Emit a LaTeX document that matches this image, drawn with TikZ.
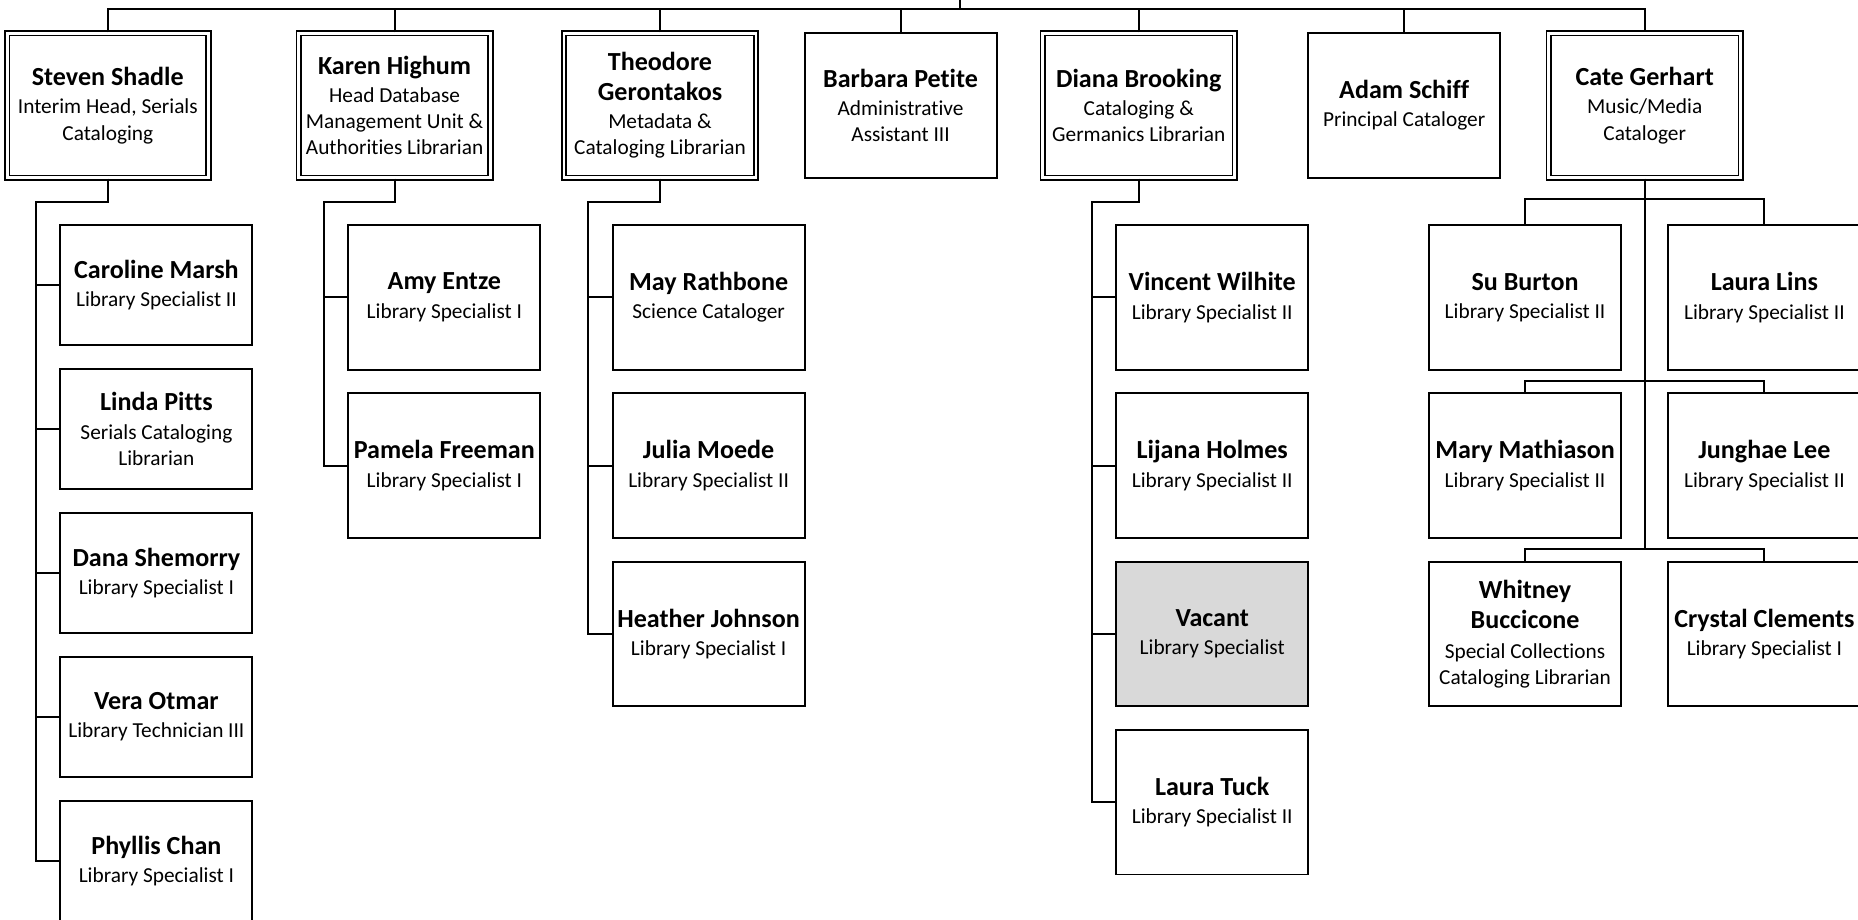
\documentclass[tikz,border=0pt]{standalone}
\usepackage{fontspec}
\setmainfont{Carlito}[Ligatures=NoCommon]
\usepackage{tikz}
\usetikzlibrary{positioning}
\usetikzlibrary{calc}

\newcommand{\nm}[1]{{\fontsize{11}{13}\selectfont\bfseries #1}}

\begin{document}
\begin{tikzpicture}[x=0.5pt, y=-0.5pt, line width=0.8pt,
        box/.style={draw, align=center, inner sep=1pt, minimum width=81pt,
            minimum height=61pt, font=\fontsize{9}{11}\selectfont},
        headbox/.style={box, line width=0.7pt, double, double distance=1.2pt},
        smallbox/.style={box, minimum height=50.5pt},
        vacantbox/.style={box, fill=black!15}]
            \useasboundingbox (0,0) rectangle (1568,776);

            % top row
            \node [headbox, minimum width=85pt] (steven) at (91,89) {\nm{Steven Shadle}\\[1pt]Interim Head, Serials\\Cataloging};
            \node [headbox] (karen) at (333,89) {\nm{Karen Highum}\\[1pt]Head Database\\Management Unit \&\\Authorities Librarian};
            \node [headbox] (theodore) at (557,89) {\nm{Theodore}\\[1.5pt]\nm{Gerontakos}\\[1pt]Metadata \&\\Cataloging Librarian};
            \node [box] (barbara) at (760,89) {\nm{Barbara Petite}\\[1pt]Administrative\\Assistant III};
            \node [headbox] (diana) at (961,89) {\nm{Diana Brooking}\\[1pt]Cataloging \&\\Germanics Librarian};
            \node [box] (adam) at (1185,89) {\nm{Adam Schiff}\\[1pt]Principal Cataloger};
            \node [headbox] (cate) at (1388,89) {\nm{Cate Gerhart}\\[1pt]Music/Media\\Cataloger};
            \coordinate (head) at (810,0);

            % serials
            \node [smallbox] (caroline) at (132,240.5) {\nm{Caroline Marsh}\\[1pt]Library Specialist II};
            \node [smallbox, below of=caroline, node distance=60.75pt] (linda) {\nm{Linda Pitts}\\[1pt]Serials Cataloging\\Librarian};
            \node [smallbox, below of=linda, node distance=60.75pt] (dana) {\nm{Dana Shemorry}\\[1pt]Library Specialist I};
            \node [smallbox, below of=dana, node distance=60.75pt] (vera) {\nm{Vera Otmar}\\[1pt]Library Technician III};
            \node [smallbox, below of=vera, node distance=60.75pt] (phyllis) {\nm{Phyllis Chan}\\[1pt]Library Specialist I};

            % database management
            \node [box] (amy) at (375,251) {\nm{Amy Entze}\\[1pt]Library Specialist I};
            \node [box, below of=amy, node distance=71pt] (pamela) {\nm{Pamela Freeman}\\[1pt]Library Specialist I};

            % metadata
            \node [box] (may) at (598,251) {\nm{May Rathbone}\\[1pt]Science Cataloger};
            \node [box, below of=may, node distance=71pt] (julia) {\nm{Julia Moede}\\[1pt]Library Specialist II};
            \node [box, below of=julia, node distance=71pt] (heather) {\nm{Heather Johnson}\\[1pt]Library Specialist I};

            % germanics
            \node [box] (vincent) at (1023,251) {\nm{Vincent Wilhite}\\[1pt]Library Specialist II};
            \node [box, below of=vincent, node distance=71pt] (lijana) {\nm{Lijana Holmes}\\[1pt]Library Specialist II};
            \node [vacantbox, below of=lijana, node distance=71pt] (vacant) {\nm{Vacant}\\[1pt]Library Specialist};
            \node [box, below of=vacant, node distance=71pt] (tuck) {\nm{Laura Tuck}\\[1pt]Library Specialist II};

            % music/media
            \node [box] (su) at (1287,251) {\nm{Su Burton}\\[1pt]Library Specialist II};
            \node [box] (lins) at (1489,251) {\nm{Laura Lins}\\[1pt]Library Specialist II};
            \node [box, below of=su, node distance=71pt] (mary) {\nm{Mary Mathiason}\\[1pt]Library Specialist II};
            \node [box, below of=lins, node distance=71pt] (junghae) {\nm{Junghae Lee}\\[1pt]Library Specialist II};
            \node [box, below of=mary, node distance=71pt] (whitney) {\nm{Whitney}\\[2pt]\nm{Buccicone}\\[1.5pt]Special Collections\\Cataloging Librarian};
            \node [box, below of=junghae, node distance=71pt] (crystal) {\nm{Crystal Clements}\\[1pt]Library Specialist I};
            \coordinate (catebus) at (1388,464);

            % top bus
            \draw (head) -- ++(0,8);
            \draw (steven.north) -- ++(0,-20) -| (cate.north);
            \draw (karen.north) -- ++(0,-20);
            \draw (theodore.north) -- ++(0,-20);
            \draw (barbara.north) -- ++(0,-20);
            \draw (diana.north) -- ++(0,-20);
            \draw (adam.north) -- ++(0,-20);

            % columns
            \draw (steven.south) -- ++(0,20) -| ([xshift=-10pt]phyllis.west) -- (phyllis.west);
            \draw ([xshift=-10pt]caroline.west) -- (caroline.west);
            \draw ([xshift=-10pt]linda.west) -- (linda.west);
            \draw ([xshift=-10pt]dana.west) -- (dana.west);
            \draw ([xshift=-10pt]vera.west) -- (vera.west);

            \draw (karen.south) -- ++(0,20) -| ([xshift=-10pt]pamela.west) -- (pamela.west);
            \draw ([xshift=-10pt]amy.west) -- (amy.west);

            \draw (theodore.south) -- ++(0,20) -| ([xshift=-10pt]heather.west) -- (heather.west);
            \draw ([xshift=-10pt]may.west) -- (may.west);
            \draw ([xshift=-10pt]julia.west) -- (julia.west);

            \draw (diana.south) -- ++(0,20) -| ([xshift=-10pt]tuck.west) -- (tuck.west);
            \draw ([xshift=-10pt]vincent.west) -- (vincent.west);
            \draw ([xshift=-10pt]lijana.west) -- (lijana.west);
            \draw ([xshift=-10pt]vacant.west) -- (vacant.west);

            \draw (cate.south) -- (catebus);
            \draw (su.north) -- ++(0,-21) -| (lins.north);
            \draw (mary.north) -- ++(0,-10) -| (junghae.north);
            \draw (whitney.north) -- ++(0,-10) -| (crystal.north);
        \end{tikzpicture}
\end{document}
